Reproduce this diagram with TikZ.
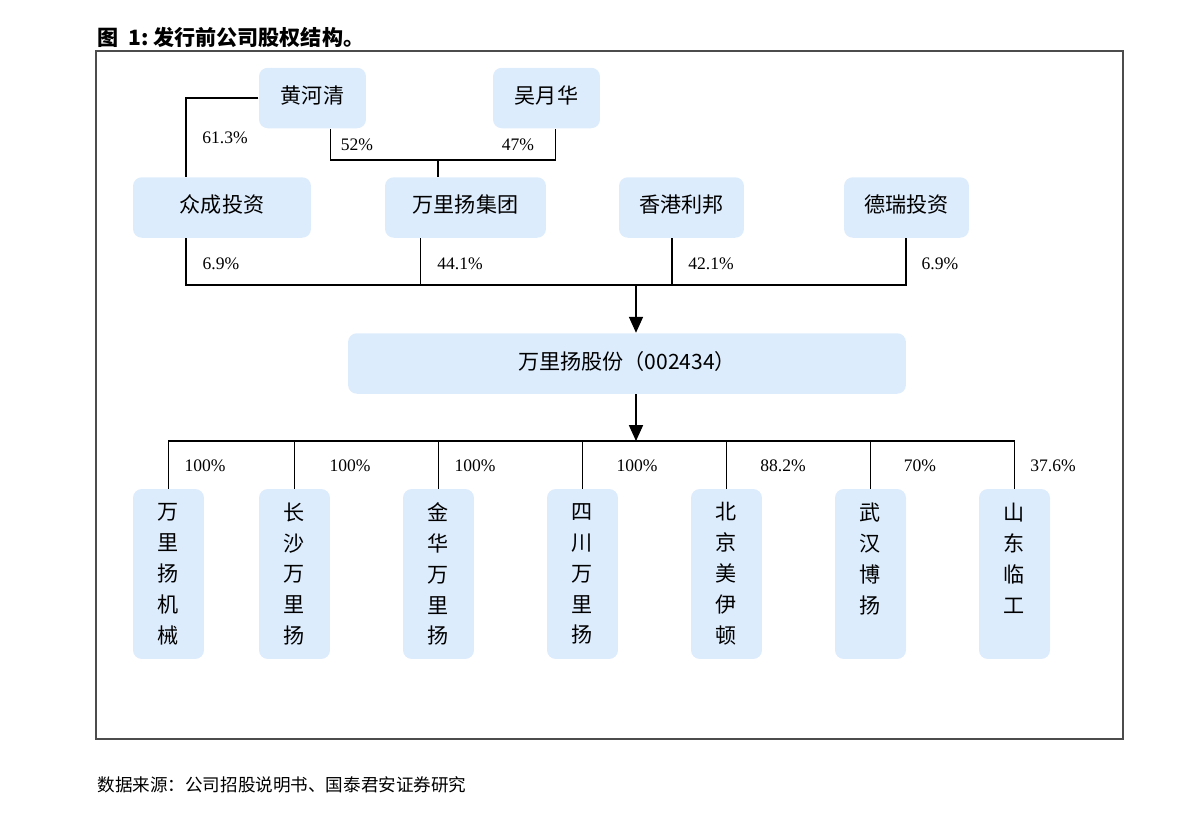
\documentclass[tikz,border=0pt]{standalone}
\usepackage{fontspec}
\setmainfont{Liberation Serif}
\newfontfamily\cjk{Noto Sans CJK SC}
\usepackage{xcolor}
\usetikzlibrary{arrows.meta,positioning,calc}
\definecolor{boxblue}{RGB}{221,236,252}

\begin{document}
\begin{tikzpicture}[
  x=0.02cm, y=-0.02cm,
  firm/.style={fill=boxblue, rounded corners=5pt, minimum height=1.21cm, inner sep=0pt, text depth=4pt, font=\cjk\fontsize{12}{14}\selectfont},
  sub/.style={fill=boxblue, rounded corners=5pt, minimum width=1.42cm, minimum height=3.4cm, inner sep=0pt, align=center, font=\cjk\fontsize{12}{17.6}\selectfont},
  pct/.style={font=\fontsize{10}{12}\selectfont, inner sep=0pt},
  arr/.style={-{Triangle[length=9pt,width=8pt]}},
  line width=0.6pt
]
\useasboundingbox (0,0) rectangle (1191,816);

% caption, frame and source
\node[anchor=west, inner sep=0pt, font=\cjk\bfseries\fontsize{12}{14}\selectfont] (title) at (97,37) {图\ \ 1:\ 发行前公司股权结构。};
\draw[gray!60!black, line width=0.8pt] (96,51) rectangle (1123,739);
\node[anchor=west, inner sep=0pt, font=\cjk\fontsize{10}{12}\selectfont] (src) at (97,785) {数据来源：公司招股说明书、国泰君安证券研究};

% holders
\node[firm, minimum width=2.14cm] (hhq) at (312.5,98) {黄河清};
\node[firm, minimum width=2.14cm] (wyh) at (546.5,98) {吴月华};

\node[firm, minimum width=3.56cm] (zc) at (222,207.5) {众成投资};
\node[firm, minimum width=3.22cm] (jt) at (465.5,207.5) {万里扬集团};
\node[firm, minimum width=2.5cm] (lb) at (681.5,207.5) {香港利邦};
\node[firm, minimum width=2.5cm] (dr) at (906.5,207.5) {德瑞投资};

\node[firm, minimum width=11.16cm] (gf) at (627,363.5) {万里扬股份（002434）};

\coordinate (bus1) at (438,160);
\coordinate (bus2) at (636,285);
\coordinate (bus3) at (636,441);

\draw (hhq.west) -| ($(zc.north)+(-36,0)$);
\draw ($(hhq.south)+(18,0)$) |- (bus1) -| ($(wyh.south)+(9,0)$);
\draw (bus1) -- (bus1 |- jt.north);

\foreach \n/\dx in {zc/-36, jt/-45, lb/-9.5, dr/-0.5}
  \draw ($(\n.south)+(\dx,0)$) |- (bus2);
\draw[arr] (bus2) -- (bus2 |- gf.north);
\draw[arr] (bus3 |- gf.south) -- (bus3);

\node[pct] (p1) at (225,138) {61.3\%};
\node[pct] (p2) at (357,145) {52\%};
\node[pct] (p3) at (518,145) {47\%};
\node[pct] (p4) at (221,264) {6.9\%};
\node[pct] (p5) at (460,264) {44.1\%};
\node[pct] (p6) at (711,264) {42.1\%};
\node[pct] (p7) at (940,264) {6.9\%};

% subsidiaries
\foreach \x/\lx/\p/\t [count=\i] in {
    168/205/100\%/万\\里\\扬\\机\\械,
    294/350/100\%/长\\沙\\万\\里\\扬,
    438/475/100\%/金\\华\\万\\里\\扬,
    582/637/100\%/四\\川\\万\\里\\扬,
    726/783/88.2\%/北\\京\\美\\伊\\顿,
    870/920/70\%/武\\汉\\博\\扬\\~,
    1014/1053/37.6\%/山\\东\\临\\工\\~} {
  \node[sub] (s\i) at (\x+0.5,574) {\t};
  \draw (bus3) -| (s\i.north);
  \node[pct] (q\i) at (\lx,466) {\p};
}

\end{tikzpicture}
\end{document}
